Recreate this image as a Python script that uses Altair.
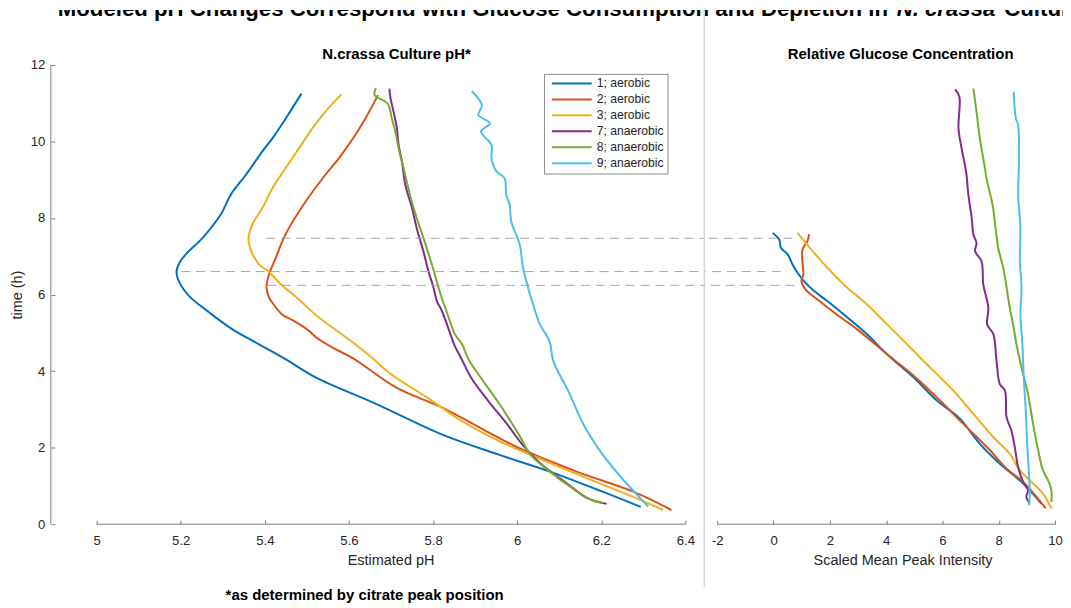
import altair as alt
import pandas as pd

FONT = "Liberation Sans"
TXT = "#262626"
AXC = "#808080"

LABELS = ["1; aerobic", "2; aerobic", "3; aerobic", "7; anaerobic", "8; anaerobic", "9; anaerobic"]
COLORS = ["#0072BD", "#D95319", "#EDB120", "#7E2F8E", "#77AC30", "#4DBEEE"]

# ---- N.crassa culture pH (time in h, estimated pH) ----
T_PH_1 = [0.45, 0.85, 1.38, 1.81, 2.34, 3.17, 3.82, 4.31, 4.70, 5.09, 5.53, 5.96, 6.31, 6.59, 6.83, 7.05, 7.48, 8.09, 8.61, 9.13, 9.74, 10.08, 10.52, 10.78, 11.25]
PH_1 = [6.294, 6.203, 6.076, 5.958, 5.822, 5.659, 5.523, 5.449, 5.386, 5.323, 5.268, 5.220, 5.197, 5.190, 5.197, 5.212, 5.252, 5.295, 5.319, 5.355, 5.394, 5.418, 5.445, 5.460, 5.487]
T_PH_2 = [0.37, 0.55, 0.85, 1.38, 1.99, 2.51, 3.04, 3.56, 4.33, 4.62, 4.87, 5.05, 5.31, 5.48, 5.83, 5.92, 6.18, 6.53, 6.96, 7.57, 8.43, 9.13, 9.56, 10.17, 10.60, 11.21]
PH_2 = [6.367, 6.335, 6.276, 6.140, 6.004, 5.913, 5.823, 5.714, 5.610, 5.560, 5.523, 5.505, 5.469, 5.441, 5.415, 5.410, 5.404, 5.410, 5.426, 5.449, 5.497, 5.544, 5.576, 5.615, 5.639, 5.669]
T_PH_3 = [0.37, 0.63, 1.11, 1.73, 2.16, 2.69, 3.30, 3.95, 4.31, 4.70, 5.00, 5.44, 5.87, 6.27, 6.59, 6.79, 7.18, 7.44, 7.83, 8.26, 8.78, 9.30, 9.82, 10.34, 10.78, 11.23]
PH_3 = [6.347, 6.294, 6.186, 6.050, 5.959, 5.869, 5.787, 5.696, 5.659, 5.615, 5.578, 5.524, 5.481, 5.438, 5.410, 5.386, 5.366, 5.361, 5.370, 5.394, 5.418, 5.449, 5.481, 5.513, 5.544, 5.582]
T_PH_7 = [0.53, 0.68, 1.11, 1.55, 2.07, 2.60, 3.21, 3.82, 4.31, 4.70, 4.88, 5.57, 5.83, 6.18, 6.61, 7.13, 7.74, 8.26, 8.87, 9.47, 9.91, 10.34, 10.78, 11.12, 11.38]
PH_7 = [6.213, 6.167, 6.113, 6.059, 6.013, 5.977, 5.932, 5.891, 5.868, 5.850, 5.844, 5.821, 5.809, 5.801, 5.789, 5.777, 5.761, 5.750, 5.734, 5.726, 5.718, 5.714, 5.706, 5.699, 5.696]
T_PH_8 = [0.55, 0.63, 0.94, 1.38, 1.81, 2.34, 3.12, 3.82, 4.31, 4.70, 4.96, 5.66, 5.83, 6.18, 6.79, 7.48, 8.00, 8.61, 9.30, 9.82, 10.17, 10.60, 10.99, 11.21, 11.40]
PH_8 = [6.204, 6.177, 6.131, 6.077, 6.032, 6.004, 5.959, 5.914, 5.884, 5.869, 5.852, 5.829, 5.823, 5.813, 5.797, 5.777, 5.761, 5.745, 5.730, 5.718, 5.712, 5.702, 5.692, 5.661, 5.664]
T_PH_9 = [0.46, 0.77, 1.20, 1.81, 2.60, 3.47, 4.26, 4.78, 5.22, 5.74, 6.18, 6.70, 7.31, 7.91, 8.35, 8.61, 9.04, 9.21, 9.56, 9.91, 10.26, 10.47, 10.69, 10.95, 11.32]
PH_9 = [6.312, 6.285, 6.249, 6.204, 6.158, 6.122, 6.086, 6.077, 6.054, 6.038, 6.026, 6.014, 6.006, 5.986, 5.982, 5.974, 5.970, 5.951, 5.939, 5.939, 5.914, 5.935, 5.908, 5.916, 5.892]

# ---- Relative glucose concentration (time in h, scaled mean peak intensity) ----
T_GL_1 = [0.54, 1.06, 1.58, 2.10, 2.75, 2.97, 3.23, 3.83, 4.44, 4.96, 5.40, 5.83, 6.09, 6.35, 6.57, 6.79, 7.05, 7.22, 7.44, 7.61]
GL_1 = [9.51, 8.87, 8.04, 7.33, 6.63, 6.27, 5.80, 4.98, 4.03, 3.32, 2.62, 1.91, 1.44, 1.08, 0.85, 0.67, 0.50, 0.26, 0.20, -0.035]
T_GL_2 = [0.41, 1.10, 1.45, 1.93, 2.62, 3.14, 3.88, 4.44, 5.09, 5.53, 5.87, 6.13, 6.35, 6.53, 6.79, 7.18, 7.39, 7.58]
GL_2 = [9.67, 8.87, 8.28, 7.69, 6.74, 6.04, 4.98, 4.03, 2.97, 2.15, 1.56, 1.14, 0.99, 1.06, 1.03, 1.03, 1.20, 1.26]
T_GL_3 = [0.41, 0.80, 1.41, 1.84, 2.27, 2.88, 3.49, 3.92, 4.35, 4.79, 5.22, 5.74, 6.18, 6.70, 7.35, 7.61]
GL_3 = [9.87, 9.57, 8.75, 8.39, 7.81, 7.10, 6.39, 5.80, 5.21, 4.62, 4.03, 3.32, 2.62, 1.91, 1.14, 0.85]
T_GL_7 = [0.54, 0.71, 0.89, 1.10, 1.49, 2.01, 2.45, 2.79, 3.49, 3.66, 4.27, 4.96, 5.22, 5.66, 6.27, 6.87, 7.13, 7.35, 7.57, 8.00, 8.61, 9.21, 9.82, 10.34, 11.17, 11.36]
GL_7 = [9.10, 8.98, 9.04, 8.87, 8.69, 8.57, 8.45, 8.28, 8.22, 8.04, 7.92, 7.81, 7.59, 7.63, 7.45, 7.39, 7.16, 7.21, 7.10, 7.04, 6.92, 6.84, 6.68, 6.57, 6.60, 6.45]
T_GL_8 = [0.58, 0.89, 1.15, 1.41, 1.93, 2.62, 3.40, 4.09, 4.70, 5.22, 5.66, 6.18, 6.70, 7.22, 7.91, 8.35, 8.95, 9.47, 10.08, 10.78, 11.38]
GL_8 = [9.87, 9.87, 9.75, 9.57, 9.40, 9.22, 9.04, 8.81, 8.63, 8.51, 8.39, 8.28, 8.16, 7.98, 7.86, 7.78, 7.59, 7.47, 7.33, 7.21, 7.10]
T_GL_9 = [0.49, 0.80, 1.23, 2.10, 2.97, 3.83, 4.70, 5.48, 6.18, 6.87, 7.74, 8.61, 9.47, 10.43, 10.60, 11.30]
GL_9 = [9.08, 9.10, 9.08, 9.01, 8.96, 8.89, 8.84, 8.77, 8.81, 8.75, 8.77, 8.69, 8.72, 8.69, 8.61, 8.53]

# ---- guide lines linking the pH minima with glucose depletion ----
DASH_T = [7.47, 6.60, 6.24]
DASH_PH = [5.403, 5.201, 5.405]
DASH_GL = [0.67, 0.25, 0.74]

PH_TICKS = [5, 5.2, 5.4, 5.6, 5.8, 6, 6.2, 6.4]
GL_TICKS = [-2, 0, 2, 4, 6, 8, 10]
T_TICKS = [0, 2, 4, 6, 8, 10, 12]

TITLE_MAIN = "Modeled pH Changes Correspond with Glucose Consumption and Depletion in"
TITLE_ITALIC = "N. crassa"
TITLE_END = "Cultures"
TITLE_LEFT = "N.crassa Culture pH*"
TITLE_RIGHT = "Relative Glucose Concentration"
XLABEL_LEFT = "Estimated pH"
XLABEL_RIGHT = "Scaled Mean Peak Intensity"
YLABEL = "time (h)"
FOOTNOTE = "*as determined by citrate peak position"


def series_frame(times, values):
    rows = []
    for lab, ts, vs in zip(LABELS, times, values):
        for t, v in zip(ts, vs):
            rows.append({"sample": lab, "t": t, "v": v})
    return pd.DataFrame(rows)


ph_df = series_frame([T_PH_1, T_PH_2, T_PH_3, T_PH_7, T_PH_8, T_PH_9],
                     [PH_1, PH_2, PH_3, PH_7, PH_8, PH_9])
gl_df = series_frame([T_GL_1, T_GL_2, T_GL_3, T_GL_7, T_GL_8, T_GL_9],
                     [GL_1, GL_2, GL_3, GL_7, GL_8, GL_9])
dash_ph_df = pd.DataFrame({"t": DASH_T, "v": DASH_PH})
dash_gl_df = pd.DataFrame({"t": DASH_T, "v": DASH_GL})

# ---- layout (pixels) ----
W_L, W_R, H = 699, 352, 461
PH_PX = 422.1
PH_DOMAIN = [5 - 89 / PH_PX, 5 + (W_L - 89) / PH_PX]
GL_PX = (W_R - 13) / 12.0
GL_DOMAIN = [-2 - 13 / GL_PX, 10]

y_scale = alt.Scale(domain=[0, 12], nice=False, zero=False)
ph_scale = alt.Scale(domain=PH_DOMAIN, nice=False, zero=False)
gl_scale = alt.Scale(domain=GL_DOMAIN, nice=False, zero=False)
color_scale = alt.Scale(domain=LABELS, range=COLORS)

axis_style = dict(grid=False, domain=False, tickSize=4, tickColor=AXC, tickWidth=1,
                  labelFont=FONT, labelFontSize=13.2, labelColor=TXT, labelFlush=False,
                  titleFont=FONT, titleFontSize=14.5, titleColor=TXT, titleFontWeight="normal")

x_axis_left = alt.Axis(values=PH_TICKS, labelExpr="'' + datum.value", offset=-4, labelPadding=10,
                       title=XLABEL_LEFT, titleX=384, titleY=40, titleBaseline="middle",
                       titleAlign="center", **axis_style)
x_axis_right = alt.Axis(values=GL_TICKS, labelExpr="'' + datum.value", offset=-4, labelPadding=10,
                        title=XLABEL_RIGHT, titleX=199, titleY=40, titleBaseline="middle",
                        titleAlign="center", **axis_style)
y_axis_left = alt.Axis(values=T_TICKS, offset=-47, labelPadding=6, title=YLABEL,
                       titleX=-37, titleY=H / 2, titleBaseline="middle", titleAlign="center",
                       titleAngle=270, **axis_style)

legend = alt.Legend(orient="none", legendX=538, legendY=9, title=None,
                    symbolType="M-5,0L5,0", symbolSize=64, symbolStrokeWidth=2,
                    symbolOffset=18.3, labelOffset=19, labelFont=FONT, labelFontSize=12.2,
                    labelColor=TXT, padding=3.5, rowPadding=3.0, strokeColor="#8c8c8c",
                    fillColor="white")

one = pd.DataFrame({"k": [0]})

# ---- left panel ----
LX = alt.X("v:Q", scale=ph_scale, axis=x_axis_left)
LY = alt.Y("t:Q", scale=y_scale, axis=y_axis_left)

left_lines = alt.Chart(ph_df).mark_line(strokeWidth=2, strokeJoin="round",
                                        interpolate="catmull-rom").encode(
    x=LX, y=LY,
    color=alt.Color("sample:N", scale=color_scale, legend=legend),
    order=alt.Order("t:Q"),
)
left_dash = alt.Chart(dash_ph_df).mark_rule(strokeDash=[9, 6], color="#a6a6a6", strokeWidth=1).encode(
    x=LX, x2=alt.value(W_L), y=LY
)
left_xline = alt.Chart(pd.DataFrame({"v": [PH_TICKS[0]], "v2": [PH_TICKS[-1]], "t": [0]})).mark_rule(
    color=AXC, strokeWidth=1).encode(x=LX, x2="v2:Q", y=LY)
left_yline = alt.Chart(pd.DataFrame({"t": [T_TICKS[0]], "t2": [T_TICKS[-1]]})).mark_rule(
    color=AXC, strokeWidth=1).encode(x=alt.value(43), y=LY, y2="t2:Q")
left_title = alt.Chart(pd.DataFrame({"s": [TITLE_LEFT]})).mark_text(
    font=FONT, fontSize=15, fontWeight="bold", color="black", align="center", baseline="middle"
).encode(x=alt.value(390), y=alt.value(-11), text="s:N")
footnote = alt.Chart(pd.DataFrame({"s": [FOOTNOTE]})).mark_text(
    font=FONT, fontSize=15, fontWeight="bold", color="black", align="center", baseline="middle"
).encode(x=alt.value(358), y=alt.value(532), text="s:N")

left = alt.layer(left_lines, left_dash, left_xline, left_yline, left_title, footnote).properties(
    width=W_L, height=H)

# ---- right panel ----
RX = alt.X("v:Q", scale=gl_scale, axis=x_axis_right)
RY = alt.Y("t:Q", scale=y_scale, axis=None)

right_lines = alt.Chart(gl_df).mark_line(strokeWidth=2, strokeJoin="round",
                                         interpolate="catmull-rom").encode(
    x=RX, y=RY,
    color=alt.Color("sample:N", scale=color_scale, legend=None),
    order=alt.Order("t:Q"),
)
right_dash = alt.Chart(dash_gl_df).mark_rule(strokeDash=[9, 6], color="#a6a6a6", strokeWidth=1).encode(
    x=RX, x2=alt.value(0), y=RY
)
right_xline = alt.Chart(pd.DataFrame({"v": [GL_TICKS[0]], "v2": [GL_TICKS[-1]], "t": [0]})).mark_rule(
    color=AXC, strokeWidth=1).encode(x=RX, x2="v2:Q", y=RY)
separator = alt.Chart(one).mark_rule(color="#d4d4d4", strokeWidth=1.5).encode(
    x=alt.value(0), y=alt.value(-55), y2=alt.value(524))
right_title = alt.Chart(pd.DataFrame({"s": [TITLE_RIGHT]})).mark_text(
    font=FONT, fontSize=15, fontWeight="bold", color="black", align="center", baseline="middle"
).encode(x=alt.value(197), y=alt.value(-11), text="s:N")

right = alt.layer(right_lines, right_dash, right_xline, separator, right_title).properties(
    width=W_R, height=H)

# ---- top title strip (cut off at the top, as in the original) ----
def title_part(txt, x, style):
    return alt.Chart(pd.DataFrame({"s": [txt]})).mark_text(
        clip=True, font=FONT, fontSize=22.3, fontWeight="bold", fontStyle=style,
        color="black", align="left", baseline="alphabetic"
    ).encode(x=alt.value(x), y=alt.value(6), text="s:N")

strip = alt.layer(
    title_part(TITLE_MAIN, 50, "normal"),
    title_part(TITLE_ITALIC, 892, "italic"),
    title_part(TITLE_END, 1000, "normal"),
).properties(width=W_L + W_R + 8, height=55)

panels = alt.hconcat(left, right, spacing=0, bounds="flush").resolve_scale(color="independent")

chart = alt.vconcat(strip, panels, spacing=0, bounds="flush").properties(
    padding=0
).configure(font=FONT).configure_view(strokeWidth=0)

chart.save("out.html", embed_options={"renderer": "svg", "actions": False})
